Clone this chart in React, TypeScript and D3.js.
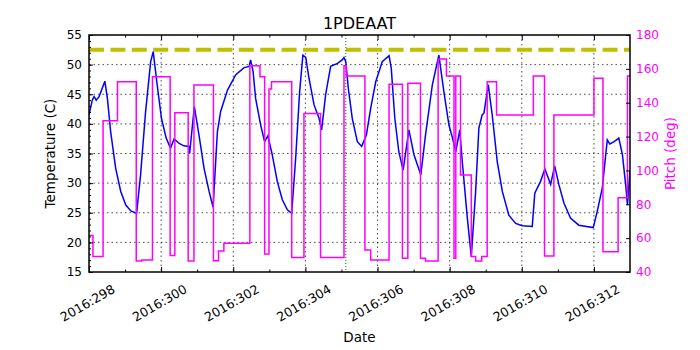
import React, { useRef, useEffect } from 'react';
import * as d3 from 'd3';

// temperature samples (day of 2016, deg C)
const tempDays = [
  298.00, 298.09, 298.14, 298.20, 298.28, 298.44, 298.51, 298.60, 298.74, 298.88,
  299.02, 299.16, 299.32, 299.43, 299.57, 299.71, 299.78, 299.89, 300.01, 300.14,
  300.26, 300.36, 300.50, 300.63, 300.77, 300.79, 300.92, 301.05, 301.19, 301.33,
  301.44, 301.56, 301.65, 301.84, 302.07, 302.30, 302.44, 302.48, 302.55, 302.62,
  302.76, 302.87, 302.96, 303.08, 303.22, 303.36, 303.50, 303.62, 303.73, 303.84,
  303.93, 304.01, 304.10, 304.24, 304.38, 304.45, 304.56, 304.70, 304.89, 305.02,
  305.07, 305.12, 305.19, 305.30, 305.44, 305.56, 305.69, 305.81, 305.95, 306.13,
  306.32, 306.38, 306.48, 306.59, 306.71, 306.87, 307.01, 307.20, 307.33, 307.52,
  307.70, 307.84, 307.98, 308.07, 308.17, 308.28, 308.35, 308.49, 308.60, 308.72,
  308.81, 308.90, 308.95, 309.07, 309.18, 309.32, 309.46, 309.64, 309.83, 310.01,
  310.29, 310.36, 310.52, 310.64, 310.80, 310.91, 311.03, 311.17, 311.35, 311.58,
  311.98, 312.09, 312.23, 312.37, 312.44, 312.56, 312.69, 312.79, 312.88, 312.93,
  313.00,
];
const tempValues = [
  41.5, 44.0, 44.6, 44.0, 44.6, 47.2, 44.3, 38.7, 32.5, 28.6,
  26.3, 25.3, 24.9, 31.4, 42.1, 50.5, 52.2, 46.6, 40.9, 37.6,
  35.9, 37.5, 36.7, 36.3, 36.2, 35.0, 42.9, 38.1, 32.5, 28.6,
  25.9, 38.7, 42.1, 45.7, 48.3, 49.5, 49.7, 50.8, 48.8, 44.3,
  39.8, 37.0, 38.0, 34.8, 30.3, 27.2, 25.5, 24.9, 34.2, 45.4,
  51.6, 51.2, 47.7, 43.2, 40.9, 39.0, 44.9, 49.7, 50.2, 50.8,
  51.2, 50.5, 46.0, 40.9, 37.0, 36.2, 38.1, 42.6, 47.1, 50.5,
  51.5, 49.4, 40.9, 35.3, 32.2, 39.0, 34.8, 31.4, 38.1, 46.6,
  51.6, 45.4, 39.8, 37.8, 35.3, 39.0, 33.6, 24.1, 17.6, 28.6,
  39.3, 41.5, 41.8, 46.6, 41.5, 33.6, 28.6, 24.6, 23.2, 22.8,
  22.7, 28.3, 30.3, 32.4, 29.8, 32.9, 29.7, 26.6, 24.1, 22.9,
  22.5, 25.2, 29.1, 37.3, 36.6, 37.0, 37.6, 34.8, 29.7, 26.3,
  32.2,
];

// pitch steps (start day, deg)
const pitchDays = [
  298.00, 298.11, 298.39, 298.79, 299.31, 299.46, 299.76, 300.25, 300.38, 300.75,
  300.91, 301.45, 301.59, 301.74, 302.46, 302.74, 302.87, 302.99, 303.06, 303.62,
  303.96, 304.42, 305.07, 305.13, 305.65, 305.81, 306.32, 306.69, 306.84, 307.19,
  307.33, 307.68, 307.91, 308.12, 308.17, 308.30, 308.60, 308.72, 308.89, 309.04,
  309.30, 310.32, 310.63, 310.89, 312.00, 312.25, 312.67, 312.93, 313.00,
];
const pitchValues = [
  61.5, 49.1, 129.4, 152.4, 46.5, 47.1, 155.4, 49.7, 134.1, 46.5,
  150.5, 46.7, 52.4, 57.0, 161.9, 155.4, 50.7, 148.1, 152.4, 48.5,
  133.7, 48.5, 161.9, 155.8, 53.0, 47.1, 150.9, 48.1, 151.5, 48.1,
  46.5, 165.8, 155.8, 48.1, 155.8, 97.3, 49.1, 46.5, 49.1, 152.4,
  132.8, 155.8, 49.5, 132.8, 154.4, 51.9, 83.9, 155.8, 155.8,
];

const dayTicks = [298, 300, 302, 304, 306, 308, 310, 312];
const dayMinorTicks = [299, 301, 303, 305, 307, 309, 311];
const tempTicks = [15, 20, 25, 30, 35, 40, 45, 50, 55];
const pitchTicks = [40, 60, 80, 100, 120, 140, 160, 180];
const planningLimit = 52.5;
const nowDay = 305.12;

const FONT = "'DejaVu Sans', sans-serif";

export default function App() {
  const ref = useRef<SVGSVGElement>(null);

  useEffect(() => {
    const W = 700, H = 350;
    const margin = { top: 35, right: 70, bottom: 78, left: 89 };

    const svg = d3.select(ref.current);
    svg.selectAll('*').remove();
    svg.attr('width', W).attr('height', H);

    svg.append('rect').attr('width', W).attr('height', H).attr('fill', '#fff');

    const x = d3.scaleLinear().domain([298, 313]).range([margin.left, W - margin.right]);
    const yT = d3.scaleLinear().domain([15, 55]).range([H - margin.bottom, margin.top]);
    const yP = d3.scaleLinear().domain([40, 180]).range([H - margin.bottom, margin.top]);

    svg.append('clipPath').attr('id', 'plotclip')
      .append('rect')
      .attr('x', margin.left).attr('y', margin.top)
      .attr('width', W - margin.left - margin.right)
      .attr('height', H - margin.top - margin.bottom);

    // grid
    const grid = svg.append('g').attr('stroke', '#000').attr('stroke-width', 0.7)
      .attr('stroke-dasharray', '1.5,3');
    grid.selectAll('line.gx')
      .data(dayTicks.slice(1))
      .enter().append('line')
      .attr('x1', d => x(d)).attr('x2', d => x(d))
      .attr('y1', margin.top).attr('y2', H - margin.bottom);
    grid.selectAll('line.gy')
      .data(tempTicks.slice(1, -1))
      .enter().append('line')
      .attr('x1', margin.left).attr('x2', W - margin.right)
      .attr('y1', d => yT(d)).attr('y2', d => yT(d));

    const plot = svg.append('g').attr('clip-path', 'url(#plotclip)');

    // planning limit
    plot.append('line')
      .attr('x1', margin.left).attr('x2', W - margin.right)
      .attr('y1', yT(planningLimit)).attr('y2', yT(planningLimit))
      .attr('stroke', '#bfbf00').attr('stroke-width', 4)
      .attr('stroke-dasharray', '15,6.4');

    // now marker
    plot.append('line')
      .attr('x1', x(nowDay)).attr('x2', x(nowDay))
      .attr('y1', margin.top).attr('y2', H - margin.bottom)
      .attr('stroke', '#008000').attr('stroke-width', 1)
      .attr('stroke-dasharray', '1,2');

    const tempLine = d3.line<number>()
      .x((_, i) => x(tempDays[i]))
      .y(d => yT(d));
    plot.append('path')
      .attr('d', tempLine(tempValues))
      .attr('fill', 'none').attr('stroke', '#0000ff').attr('stroke-width', 1.5);

    const pitchLine = d3.line<number>()
      .x((_, i) => x(pitchDays[i]))
      .y(d => yP(d))
      .curve(d3.curveStepAfter);
    plot.append('path')
      .attr('d', pitchLine(pitchValues))
      .attr('fill', 'none').attr('stroke', '#ff00ff').attr('stroke-width', 1.5);

    // axes (inward ticks)
    svg.append('g').attr('transform', `translate(0,${H - margin.bottom})`)
      .call(d3.axisBottom(x).tickValues(dayMinorTicks).tickSizeInner(-2.5).tickSizeOuter(0).tickFormat(() => ''));
    const bMajor = svg.append('g').attr('transform', `translate(0,${H - margin.bottom})`)
      .call(d3.axisBottom(x).tickValues(dayTicks).tickSizeInner(-5).tickSizeOuter(0)
        .tickFormat(d => `2016:${d}`));

    svg.append('g').attr('transform', `translate(0,${margin.top})`)
      .call(d3.axisTop(x).tickValues(dayMinorTicks).tickSizeInner(-2.5).tickSizeOuter(0).tickFormat(() => ''));
    svg.append('g').attr('transform', `translate(0,${margin.top})`)
      .call(d3.axisTop(x).tickValues(dayTicks).tickSizeInner(-5).tickSizeOuter(0).tickFormat(() => ''));

    svg.append('g').attr('transform', `translate(${margin.left},0)`)
      .call(d3.axisLeft(yT).tickValues(d3.range(15, 56, 1)).tickSizeInner(-2).tickSizeOuter(0).tickFormat(() => ''));
    svg.append('g').attr('transform', `translate(${margin.left},0)`)
      .call(d3.axisLeft(yT).tickValues(tempTicks).tickSizeInner(-4).tickSizeOuter(0).tickPadding(7));

    const right = svg.append('g').attr('transform', `translate(${W - margin.right},0)`)
      .call(d3.axisRight(yP).tickValues(pitchTicks).tickSizeInner(-4).tickSizeOuter(0).tickPadding(6));
    right.selectAll('text').attr('fill', '#ff00ff');

    svg.selectAll('.domain').remove();
    svg.selectAll('.tick line').attr('stroke', '#000').attr('stroke-width', 1);
    svg.selectAll('.tick text').style('font-family', FONT).style('font-size', '12px');

    // rotated date labels, centred under their tick
    bMajor.selectAll('text')
      .attr('y', 0).attr('dy', '0.35em')
      .attr('transform', 'translate(-2,31) rotate(-30)')
      .style('text-anchor', 'middle')
      .style('font-size', '12.6px');

    // frame
    svg.append('rect')
      .attr('x', margin.left).attr('y', margin.top)
      .attr('width', W - margin.left - margin.right)
      .attr('height', H - margin.top - margin.bottom)
      .attr('fill', 'none').attr('stroke', '#000').attr('stroke-width', 1.5);

    // titles
    svg.append('text')
      .attr('x', (margin.left + W - margin.right) / 2).attr('y', 28.5)
      .attr('text-anchor', 'middle')
      .style('font-family', FONT).style('font-size', '16px')
      .text('1PDEAAT');
    svg.append('text')
      .attr('x', (margin.left + W - margin.right) / 2).attr('y', 342)
      .attr('text-anchor', 'middle')
      .style('font-family', FONT).style('font-size', '13.5px')
      .text('Date');
    svg.append('text')
      .attr('transform', `translate(55,${(margin.top + H - margin.bottom) / 2}) rotate(-90)`)
      .attr('text-anchor', 'middle')
      .style('font-family', FONT).style('font-size', '13.5px')
      .text('Temperature (C)');
    svg.append('text')
      .attr('transform', `translate(675,${(margin.top + H - margin.bottom) / 2}) rotate(-90)`)
      .attr('text-anchor', 'middle')
      .attr('fill', '#ff00ff')
      .style('font-family', FONT).style('font-size', '13.5px')
      .text('Pitch (deg)');
  }, []);

  return (
    <div style={{ position: 'absolute', left: 0, top: 0 }}>
      <svg ref={ref}></svg>
    </div>
  );
}
